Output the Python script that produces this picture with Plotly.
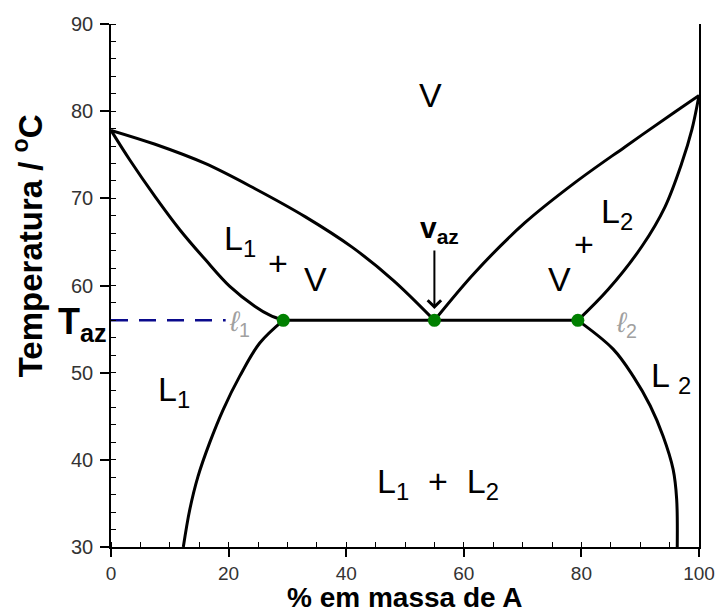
import plotly.graph_objects as go

# Phase diagram of a binary system with a low-boiling heteroazeotrope
# x: mass % of A, y: temperature in deg C

# dew curve (vapour) on the B-rich side, from pure B to the azeotrope
dew_left_x = [0, 7.5, 16.0, 24.5, 33.0, 41.0, 48.0, 55]
dew_left_T = [77.8, 76.2, 74.0, 71.1, 67.9, 64.4, 60.6, 56.0]

# bubble curve of liquid L1, from pure B down to point l1
bubble_left_x = [0, 3.2, 7.5, 11.7, 16.0, 20.2, 24.5, 27.0, 29.3]
bubble_left_T = [77.8, 74.4, 70.2, 66.4, 63.0, 59.9, 57.6, 56.6, 56.0]

# dew curve on the A-rich side, from the azeotrope to pure A
dew_right_x = [55, 61.9, 70.4, 78.9, 87.4, 95.9, 100]
dew_right_T = [56.0, 61.5, 67.2, 71.8, 75.9, 79.9, 81.8]

# bubble curve of liquid L2, from point l2 up to pure A
bubble_right_x = [79.4, 84.5, 90.3, 94.2, 97.1, 98.8, 100]
bubble_right_T = [56.0, 59.5, 64.5, 69.0, 74.1, 77.9, 81.8]

# mutual solubility curves of the two liquid phases
sol_left_x = [29.3, 25.3, 21.9, 19.1, 16.8, 14.8, 13.4, 12.3]
sol_left_T = [56.0, 53.4, 49.6, 45.8, 42.0, 38.1, 34.3, 30.0]
sol_right_x = [79.4, 85.4, 88.8, 91.7, 93.9, 95.6, 96.2, 96.3]
sol_right_T = [56.0, 52.7, 49.6, 46.2, 42.7, 38.9, 35.5, 30.0]

# three-phase line: l1, azeotropic vapour, l2
t_az = 56.0
three_phase_x = [29.3, 55.0, 79.4]
three_phase_T = [t_az, t_az, t_az]

# dashed guide from the temperature axis towards l1
taz_guide_x = [0, 19.5]
taz_guide_T = [t_az, t_az]

x_ticks = [0, 20, 40, 60, 80, 100]
y_ticks = [30, 40, 50, 60, 70, 80, 90]

FONT = "Liberation Sans, Arial, sans-serif"
LINE = dict(color="black", width=3, shape="spline", smoothing=1.0)

fig = go.Figure()
for xs, ts in [(dew_left_x, dew_left_T), (bubble_left_x, bubble_left_T),
               (dew_right_x, dew_right_T), (bubble_right_x, bubble_right_T),
               (sol_left_x, sol_left_T), (sol_right_x, sol_right_T)]:
    fig.add_trace(go.Scatter(x=xs, y=ts, mode="lines", line=LINE,
                             hoverinfo="skip", showlegend=False))

fig.add_trace(go.Scatter(x=taz_guide_x, y=taz_guide_T, mode="lines",
                         line=dict(color="#0a0a8c", width=2.5, dash="17px,11px"),
                         showlegend=False, hoverinfo="skip"))
fig.add_trace(go.Scatter(x=[three_phase_x[0], three_phase_x[-1]],
                         y=[three_phase_T[0], three_phase_T[-1]], mode="lines",
                         line=dict(color="black", width=3),
                         showlegend=False, hoverinfo="skip"))
fig.add_trace(go.Scatter(x=three_phase_x, y=three_phase_T, mode="markers",
                         marker=dict(color="#008000", size=13),
                         showlegend=False, hoverinfo="skip"))


def region(text, x, y, size=34, color="black"):
    fig.add_annotation(x=x, y=y, text=text, showarrow=False,
                       font=dict(family=FONT, size=size, color=color))


SUB = "<sub style='font-size:90%'>{}</sub>"

region("V", 54.3, 81.9)
region("L" + SUB.format("1"), 22.0, 65.2)
region("+", 28.4, 62.6)
region("V", 34.8, 60.7)
region("L" + SUB.format("2"), 86.0, 68.3)
region("+", 80.4, 64.8)
region("V", 76.2, 60.7)
region("L" + SUB.format("1"), 10.7, 47.8)
region("L " + SUB.format("2"), 95.3, 49.5)
region("L" + SUB.format("1") + "  +  L" + SUB.format("2"), 55.6, 37.3)
region("<i>ℓ</i><sub style='font-size:85%'>1</sub>", 21.8, 55.6, size=28, color="#a0a0a0")
region("<i>ℓ</i><sub style='font-size:85%'>2</sub>", 87.6, 55.5, size=28, color="#a0a0a0")

# azeotropic vapour label with its arrow
region("<b>v<sub style='font-size:85%'>az</sub></b>", 55.8, 66.4, size=30)
fig.add_annotation(x=55, y=57.3, ax=0, ay=-60, text="", showarrow=True,
                   arrowhead=4, arrowsize=1.3, arrowwidth=2, arrowcolor="black")

# azeotropic temperature on the temperature axis
fig.add_annotation(x=0, y=t_az, xanchor="right", xshift=-2, yshift=-4,
                   text="<b>T<sub style='font-size:78%'>az</sub></b>",
                   showarrow=False, font=dict(family=FONT, size=36, color="black"))

# axis titles
fig.add_annotation(xref="paper", yref="paper", x=0.5, y=-0.0975,
                   xanchor="center", yanchor="middle", showarrow=False,
                   text="<b>% em massa de A</b>",
                   font=dict(family=FONT, size=28, color="black"))
fig.add_annotation(xref="paper", yref="paper", x=-0.141, y=0.575,
                   xanchor="center", yanchor="middle", showarrow=False,
                   textangle=-90, text="<b>Temperatura / <sup>o</sup>C</b>",
                   font=dict(family=FONT, size=33, color="black"))

fig.update_layout(
    width=719, height=615,
    margin=dict(l=111, r=20, t=24, b=68),
    paper_bgcolor="white", plot_bgcolor="white",
    font=dict(family=FONT),
)
fig.update_xaxes(
    range=[0, 100], tickvals=x_ticks, showgrid=False, zeroline=False,
    automargin=False,
    showline=True, linecolor="black", linewidth=1.5,
    ticks="outside", ticklen=8, tickwidth=1.5, tickcolor="black",
    ticklabelstandoff=0,
    tickfont=dict(family=FONT, size=19, color="#333333"),
    minor=dict(dtick=5, ticks="inside", ticklen=5, tickcolor="black", tickwidth=1),
)
fig.update_yaxes(
    range=[30, 90], tickvals=y_ticks, showgrid=False, zeroline=False,
    automargin=False,
    showline=True, linecolor="black", linewidth=1.5, mirror=True,
    ticks="outside", ticklen=9, tickwidth=1.5, tickcolor="black",
    ticklabelstandoff=3,
    tickfont=dict(family=FONT, size=20, color="#333333"),
    minor=dict(dtick=2, ticks="inside", ticklen=5, tickcolor="black", tickwidth=1),
)

fig.write_html("out.html")
